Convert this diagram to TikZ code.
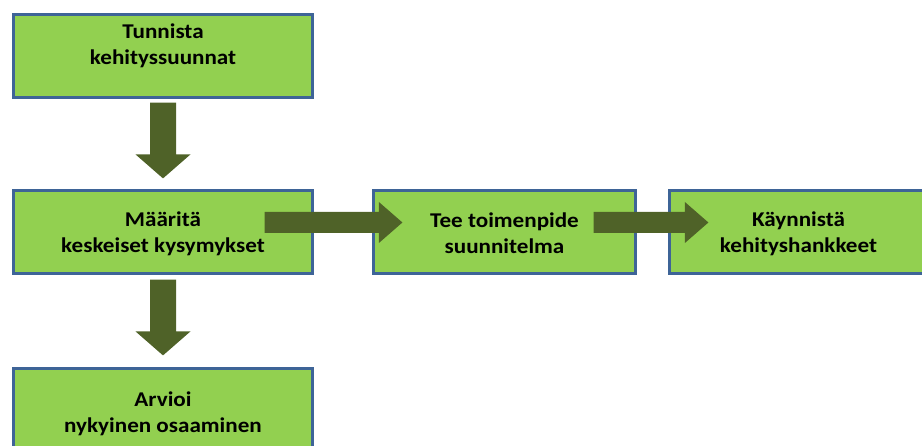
\documentclass[tikz,border=0pt]{standalone}
\usepackage{fontspec}
\setmainfont{Carlito}[FakeStretch=1.1]
\usetikzlibrary{calc}
\definecolor{boxfill}{HTML}{92D050}
\definecolor{boxline}{HTML}{3E6497}
\definecolor{arrowfill}{HTML}{4F6228}

% downward block arrow: #1 top of shaft, #2 tip
\newcommand{\downblock}[2]{%
  \fill[arrowfill] let \p1=#1, \p2=#2 in
    (\x1-13pt,\y1) -- (\x1+13pt,\y1) -- (\x1+13pt,\y2+24pt) -- (\x1+27.5pt,\y2+24pt)
    -- (\x1,\y2) -- (\x1-27.5pt,\y2+24pt) -- (\x1-13pt,\y2+24pt) -- cycle;}
% rightward block arrow: #1 start of shaft, #2 tip
\newcommand{\rightblock}[2]{%
  \fill[arrowfill] let \p1=#1, \p2=#2 in
    (\x1,\y1+10.5pt) -- (\x2-23.5pt,\y1+10.5pt) -- (\x2-23.5pt,\y1+20.5pt) -- (\x2,\y1)
    -- (\x2-23.5pt,\y1-20.5pt) -- (\x2-23.5pt,\y1-10.5pt) -- (\x1,\y1-10.5pt) -- cycle;}

\tikzset{
  stepbox/.style={draw=boxline, fill=boxfill, line width=3.2pt, rectangle,
    minimum height=83pt, inner sep=0pt},
  widebox/.style={stepbox, minimum width=299pt},
  narrowbox/.style={stepbox, minimum width=262pt},
  lbl/.style={align=center, inner sep=0pt, font=\fontsize{21}{26}\selectfont\bfseries}
}

\begin{document}
\begin{tikzpicture}[x=1pt, y=-1pt]
  \useasboundingbox (0,0) rectangle (922,446);

  % process boxes
  \node[widebox]   (b1) at (163,56)    {};
  \node[widebox]   (b2) at (163,232)   {};
  \node[narrowbox] (b3) at (504.5,232) {};
  \node[narrowbox] (b4) at (800.5,232) {};
  \node[widebox]   (b5) at (163,410)   {};

  % box texts
  \node[lbl] (t1) at ($(b1.center)+(0,-10)$) {Tunnista\\kehityssuunnat};
  \node[lbl] (t2) at ($(b2.center)+(0,2)$) {Määritä\\keskeiset kysymykset};
  \node[lbl] (t3) at ($(b3.center)+(0,1.5)$) {Tee toimenpide\\suunnitelma};
  \node[lbl] (t4) at ($(b4.center)+(-2,1.5)$) {Käynnistä\\kehityshankkeet};
  \node[lbl] (t5) at ($(b5.center)+(0,3.5)$) {Arvioi\\nykyinen osaaminen};

  % block arrows between the boxes
  \downblock{($(b1.south)+(0,3.5)$)}{($(b2.north)+(0,-10.5)$)}
  \downblock{($(b2.south)+(0,4.5)$)}{($(b5.north)+(0,-11.5)$)}
  \rightblock{($(b2.east)+(-49.5,-9.5)$)}{($(b3.west)+(30.5,-9.5)$)}
  \rightblock{($(b3.east)+(-43.5,-9.5)$)}{($(b4.west)+(40.5,-9.5)$)}
\end{tikzpicture}
\end{document}
